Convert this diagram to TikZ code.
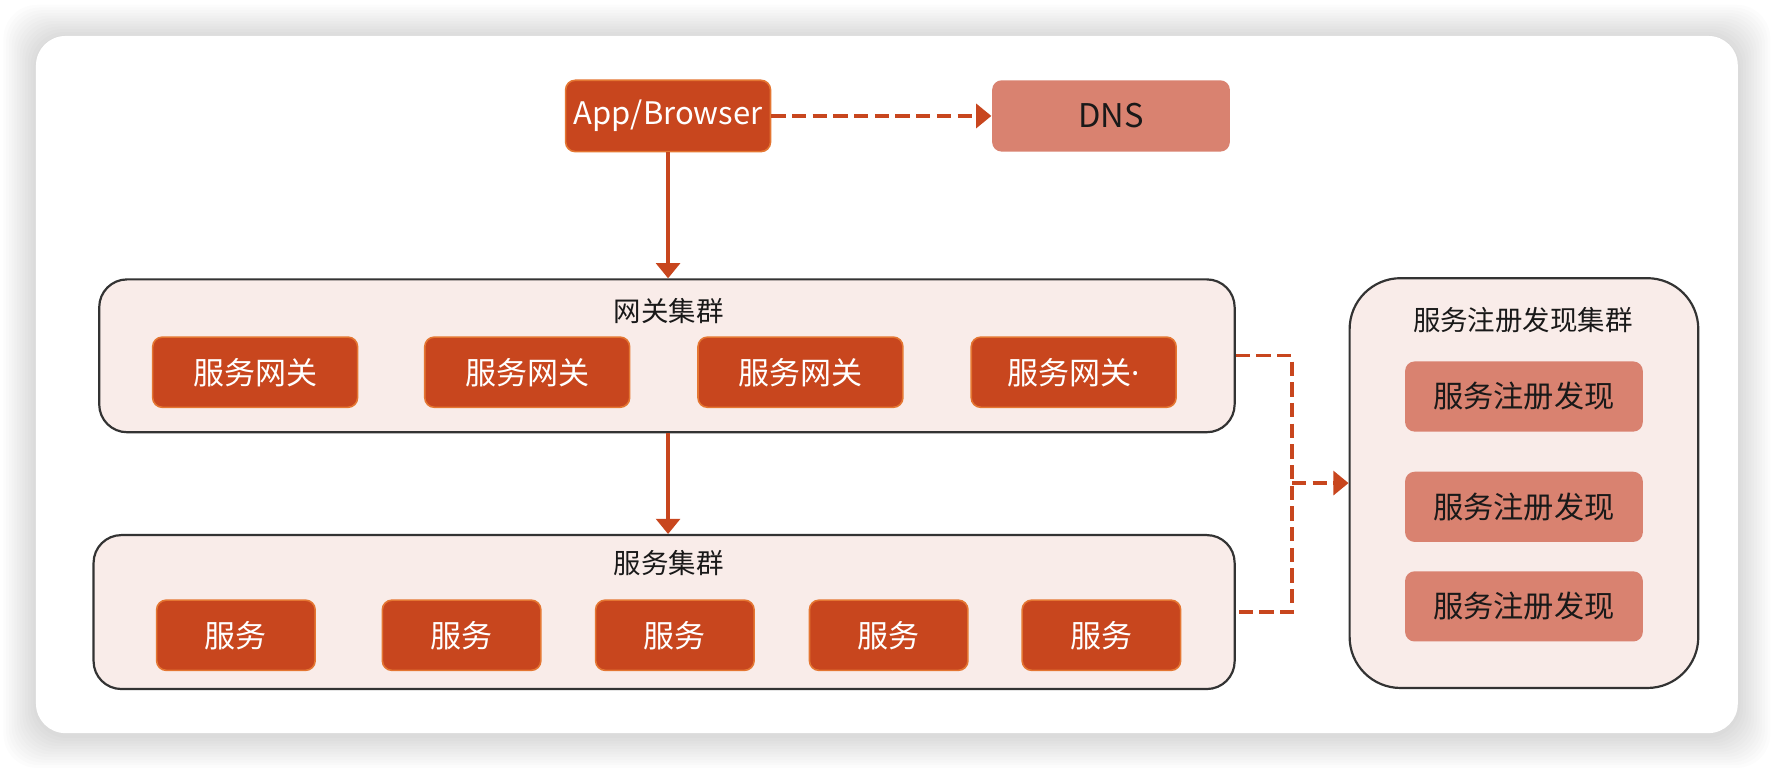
\documentclass[tikz,border=0pt]{standalone}
\usepackage{fontspec}
\setmainfont{Noto Sans CJK SC}
\newfontfamily\latinfont{Noto Sans}
\usepackage{tikz}
\usetikzlibrary{arrows.meta,positioning}
\usepackage{xcolor}
\definecolor{msorange}{RGB}{200,70,30}
\definecolor{msedge}{RGB}{228,118,50}
\definecolor{mssalmon}{RGB}{217,130,112}
\definecolor{mspink}{RGB}{249,236,233}
\definecolor{msink}{RGB}{25,25,25}
\tikzstyle{arrow} = [line width=0.8pt,-{Triangle[width=6pt,length=3.8pt]},color=msorange]
\tikzstyle{dashline} = [line width=0.85pt,dash pattern=on 3.6pt off 1.6pt,color=msorange]
\tikzstyle{darkbox} = [rectangle, rounded corners=2.4pt, minimum height=0.62cm, text centered, draw=msedge, line width=0.4pt, fill=msorange, text=white, font=\fontsize{7.8pt}{9pt}\selectfont]
\tikzstyle{lightbox} = [rectangle, rounded corners=2.4pt, minimum width=2.1cm, minimum height=0.62cm, text centered, fill=mssalmon, text=msink, font=\fontsize{7.6pt}{9pt}\selectfont]
\tikzstyle{cluster} = [rectangle, rounded corners=7pt, draw=black!80, line width=0.55pt, fill=mspink]
\tikzstyle{clustertitle} = [text=msink, font=\fontsize{6.9pt}{8pt}\selectfont]

\begin{document}
\begin{tikzpicture}[x=0.01cm, y=-0.01cm]
\useasboundingbox (0,0) rectangle (1568,680.6);
\fill[white] (0,0) rectangle (1568,680.6);
% card and its shadow
\foreach \s in {1,...,12}
  \fill[black, opacity=0.013, rounded corners=0.3cm] (31.8-\s*2.4,33-\s*2.4) rectangle (1536+\s*2.4,650+\s*2.4);
\fill[white, rounded corners=0.26cm] (31.8,31.8) rectangle (1536,648);

% client and dns
\node (app) [darkbox, minimum width=1.81cm, minimum height=0.63cm, inner xsep=1pt] at (590.5,102.5) {App/Browser};
\node (dns) [lightbox, minimum height=0.63cm, font=\fontsize{8.2pt}{10pt}\selectfont] at (982,102.5) {DNS};

% gateway cluster
\node (gwc) [cluster, minimum width=10.03cm, minimum height=1.35cm] at (589.5,314.5) {};
\node (gwt) [clustertitle] at (591,275) {网关集群};
\foreach \x/\t [count=\i] in {225.5/服务网关, 466/服务网关, 707.5/服务网关, 949/{服务网关{\latinfont·}}}
  \node (gw\i) [darkbox, minimum width=1.81cm] at (\x,329) {\t};

% service cluster
\node (svcc) [cluster, minimum width=10.08cm, minimum height=1.36cm] at (587,541) {};
\node (svct) [clustertitle] at (591,498) {服务集群};
\foreach \x [count=\i] in {208.5,408,596.5,785.5,973.5}
  \node (svc\i) [darkbox, minimum width=1.40cm] at (\x,561.5) {服务};

% registry cluster
\node (reg) [cluster, rounded corners=0.45cm, minimum width=3.08cm, minimum height=3.62cm] at (1347,427) {};
\node (regt) [clustertitle] at (1346,283) {服务注册发现集群};
\foreach \y [count=\i] in {350.5,448,536}
  \node (reg\i) [lightbox] at (1347,\y) {服务注册发现};

\draw[arrow] (app) -- (app |- gwc.north);
\draw[arrow] (gwc.south -| app) -- (svcc.north -| app);
\draw[arrow, dashline] (app) -- (dns);
\coordinate (bus) at (1142,427);
\draw[dashline] (gwc.east) -| (bus) |- (svcc.east);
\draw[arrow, dashline] (bus) -- (reg);
\end{tikzpicture}
\end{document}
